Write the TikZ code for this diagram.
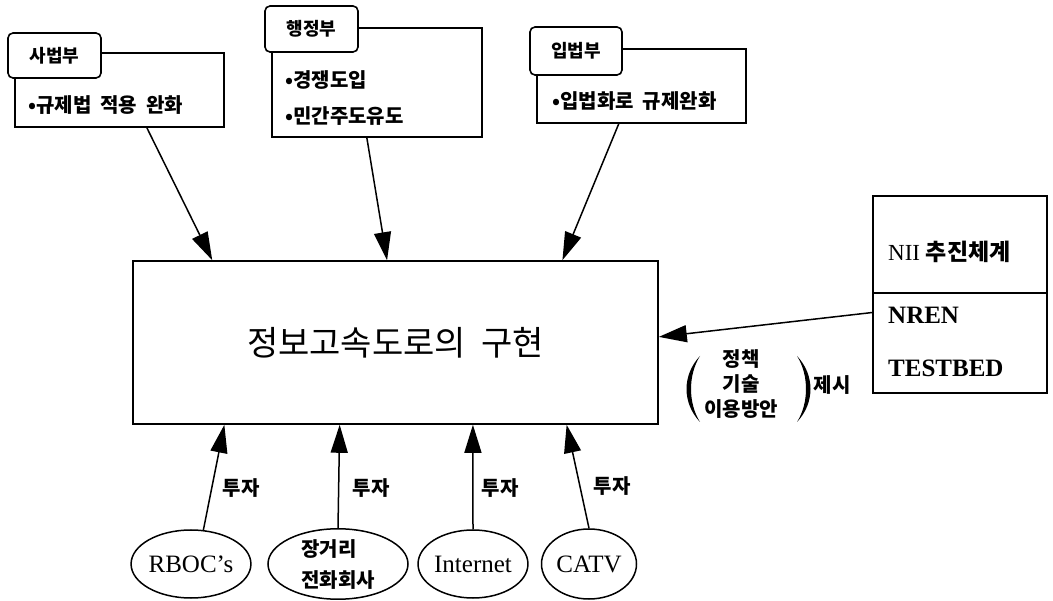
\documentclass[tikz,border=0pt]{standalone}
\usepackage{fontspec}
\setmainfont{Liberation Serif}
\newfontfamily\kr[WordSpace=2]{Noto Sans CJK KR}
\usetikzlibrary{arrows.meta,shapes.geometric,calc}
\begin{document}
\begin{tikzpicture}[x=1pt,y=-1pt,
  box/.style={draw,line width=1.6pt,inner sep=0pt},
  tab/.style={draw,line width=1.6pt,rounded corners=5pt,fill=white,inner sep=0pt,
    font=\kr\bfseries\fontsize{18}{20}\selectfont},
  oval/.style={draw,ellipse,line width=1.5pt,inner sep=0pt},
  arr/.style={line width=1.5pt,-{Triangle[length=28pt,width=17pt]}},
  ktxt/.style={font=\kr\bfseries\fontsize{20}{25}\selectfont,inner sep=0pt},
  etxt/.style={font=\fontsize{25}{28}\selectfont},
  rtxt/.style={inner sep=0pt,anchor=west}
]
\useasboundingbox (0,0) rectangle (1053,601);

% top boxes
\node[box,minimum width=209pt,minimum height=74pt] (sabox) at (119.5,90) {};
\node[box,minimum width=210pt,minimum height=109pt] (hbox) at (377,82.5) {};
\node[box,minimum width=209pt,minimum height=74pt] (ibox) at (641.5,86) {};

\node[tab,minimum width=93pt,minimum height=45pt] (stab) at (54.5,55.5) {\bfseries 사법부};
\node[tab,minimum width=93pt,minimum height=46pt] (htab) at (311.5,29) {\bfseries 행정부};
\node[tab,minimum width=92pt,minimum height=48pt] (itab) at (576,51) {\bfseries 입법부};

\node[ktxt,anchor=west] (s1) at (28,105) {•규제법 적용 완화};
\node[ktxt,anchor=west] (h1) at (285,80) {•경쟁도입};
\node[ktxt,anchor=west] (h2) at (285,116) {•민간주도유도};
\node[ktxt,anchor=west] (i1) at (552,101) {•입법화로 규제완화};

% main box
\node[box,minimum width=525pt,minimum height=163pt] (main) at (395.5,342.5) {};
\node[inner sep=0pt,font=\kr\fontsize{34}{36}\selectfont] (mt) at (main.center) {정보고속도로의 구현};

% right box
\node[box,minimum width=174pt,minimum height=97pt] (nii) at (960,244.5) {};
\node[box,minimum width=174pt,minimum height=100pt] (nren) at (960,343) {};
\node[rtxt,font=\fontsize{23}{25}\selectfont] (t1) at (888,252) {NII {\kr\bfseries 추진체계}};
\node[rtxt,font=\bfseries\fontsize{25}{27}\selectfont] (t2) at (888,315) {NREN};
\node[rtxt,font=\bfseries\fontsize{25}{27}\selectfont] (t3) at (888,368) {TESTBED};

% label with parentheses
\node[ktxt,align=center] (lab) at (741,384) {정책\\기술\\이용방안};
\fill (700,356) .. controls (682,375) and (682,403) .. (700,422)
      .. controls (688,403) and (688,375) .. (700,356) -- cycle;
\fill (797,356) .. controls (815,375) and (815,403) .. (797,422)
      .. controls (809,403) and (809,375) .. (797,356) -- cycle;
\node[ktxt] (jesi) at (832,385) {제시};

% ellipses
\node[oval,etxt,minimum width=97pt,minimum height=68pt] (rboc) at (191,564) {RBOC's};
\node[oval,align=left,font=\kr\bfseries\fontsize{20}{31}\selectfont,minimum width=140pt,minimum height=68pt] (long) at (338,564) {장거리\\전화회사};
\node[oval,etxt,minimum width=100pt,minimum height=68pt] (inet) at (473,564) {Internet};
\node[oval,etxt,minimum width=95pt,minimum height=70pt] (catv) at (589,564) {CATV};

% arrows from top
\draw[arr] ($(sabox.south west)!0.63!(sabox.south east)$) -- ($(main.north west)!0.152!(main.north east)$);
\draw[arr] ($(hbox.south west)!0.452!(hbox.south east)$) -- ($(main.north west)!0.484!(main.north east)$);
\draw[arr] ($(ibox.south west)!0.392!(ibox.south east)$) -- ($(main.north west)!0.817!(main.north east)$);
% arrow from right
\draw[arr] ($(nren.north west)!0.2!(nren.south west)$) -- ($(main.north east)!0.466!(main.south east)$);
% arrows from bottom
\draw[arr] (rboc.70) -- ($(main.south west)!0.175!(main.south east)$);
\draw[arr] (long.north) -- ($(main.south west)!0.394!(main.south east)$);
\draw[arr] (inet.north) -- ($(main.south west)!0.647!(main.south east)$);
\draw[arr] (catv.north) -- ($(main.south west)!0.825!(main.south east)$);

\node[ktxt] (f1) at (241,488) {투자};
\node[ktxt] (f2) at (371,488) {투자};
\node[ktxt] (f3) at (500,488) {투자};
\node[ktxt] (f4) at (612,486) {투자};
\end{tikzpicture}
\end{document}
